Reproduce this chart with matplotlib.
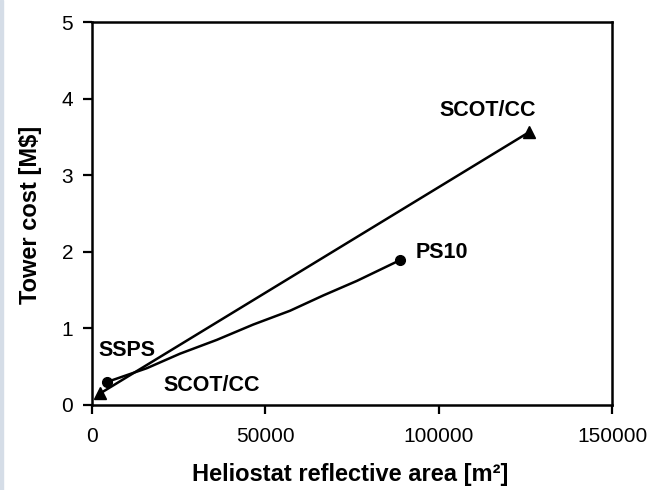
import matplotlib
matplotlib.use("Agg")
import matplotlib.pyplot as plt
from matplotlib.patches import Rectangle

plt.rcParams['font.family'] = ['Liberation Sans', 'DejaVu Sans']

# SCOT/CC: straight line between the two triangle points
scot_area = [2300, 126000]
scot_cost = [0.15, 3.56]

# SSPS -> PS10 curve
ps_area = [4300, 15800, 25400, 36000, 46500, 57100, 66700, 76400, 88800]
ps_cost = [0.30, 0.48, 0.67, 0.85, 1.05, 1.23, 1.43, 1.62, 1.89]

labels = ['SCOT/CC', 'PS10', 'SSPS', 'SCOT/CC']
label_x = [114000, 101000, 10000, 34600]
label_y = [3.85, 1.99, 0.71, 0.26]

fig = plt.figure(figsize=(6.54, 4.9), dpi=100)
ax = fig.add_axes([0.1407, 0.1735, 0.7951, 0.7816])

# thin grey strip on the left edge of the original image
fig.patches.append(Rectangle((0, 0), 0.005, 1, transform=fig.transFigure,
                             color='#d5dde7', zorder=0))

ax.plot(scot_area, scot_cost, color='black', lw=1.8)
ax.plot(scot_area, scot_cost, 'k^', ms=8.5, ls='none')
ax.plot(ps_area, ps_cost, color='black', lw=1.8)
ax.plot([ps_area[0], ps_area[-1]], [ps_cost[0], ps_cost[-1]], 'ko', ms=7, ls='none')

for t, x, y in zip(labels, label_x, label_y):
    ax.text(x, y, t, fontsize=15.5, fontweight='bold', ha='center', va='center')

ax.set_xlim(0, 150000)
ax.set_ylim(0, 5)
ax.set_xticks([0, 50000, 100000, 150000])
ax.set_yticks([0, 1, 2, 3, 4, 5])
ax.tick_params(direction='out', length=6.5, width=1.6, labelsize=15)
ax.tick_params(axis='x', pad=9)
ax.tick_params(axis='y', pad=7)
for s in ax.spines.values():
    s.set_linewidth(1.8)

ax.set_xlabel('Heliostat reflective area [m²]', fontsize=17, fontweight='bold')
ax.set_ylabel('Tower cost [M$]', fontsize=17, fontweight='bold')
ax.xaxis.set_label_coords(0.496, -0.182)
ax.xaxis.label.set_va('center')
ax.yaxis.set_label_coords(-0.119, 0.496)
ax.yaxis.label.set_va('center')

fig.savefig('out.png', dpi=100)
